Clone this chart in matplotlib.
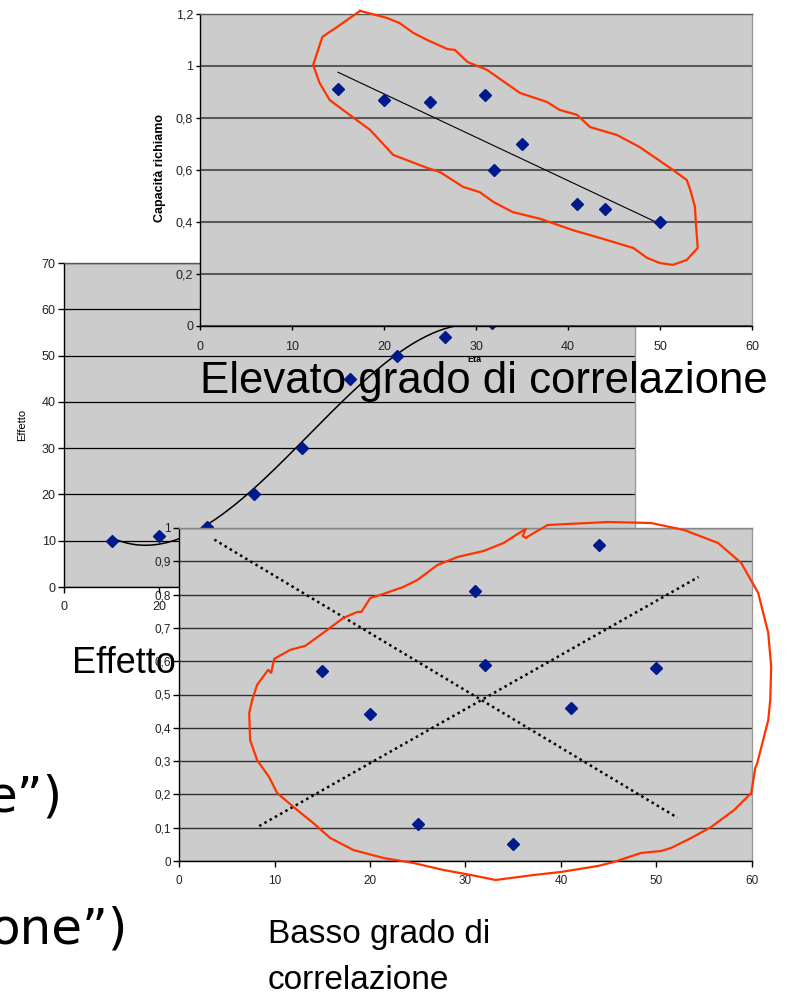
import numpy as np
import matplotlib.pyplot as plt
from matplotlib.ticker import FuncFormatter

plt.rcParams['font.family'] = 'Liberation Sans'

W, H = 794, 994

# recall capacity against age
eta = [15, 20, 25, 31, 32, 35, 41, 44, 50]
richiamo = [0.91, 0.87, 0.86, 0.89, 0.60, 0.70, 0.47, 0.45, 0.40]
# same ages, scattered values
sparsi = [0.57, 0.44, 0.11, 0.81, 0.59, 0.05, 0.46, 0.95, 0.58]
# dose / effect with a threshold
dose = [10, 20, 30, 40, 50, 60, 70, 80, 90]
effetto = [10, 11, 13, 20, 30, 45, 50, 54, 57]

# hand drawn loops, in data units of their chart
giro_alto_x = [17.4, 20.3, 21.7, 23.2, 24.7, 26.9, 27.7, 29.1, 31.2, 34.8, 37.7, 39.1, 41.0, 42.4,
               45.3, 47.8, 51.1, 52.9, 53.3, 53.8, 53.9, 54.1, 52.9, 51.4, 50.0, 48.6, 47.1, 44.2,
               40.5, 37.0, 34.0, 31.9, 30.4, 28.6, 26.1, 24.7, 21.0, 18.5, 16.0, 14.1, 13.0, 12.3,
               13.3, 14.9, 17.4]
giro_alto_y = [1.212, 1.185, 1.165, 1.127, 1.100, 1.065, 1.062, 1.015, 0.985, 0.896, 0.862, 0.831,
               0.812, 0.765, 0.735, 0.688, 0.608, 0.562, 0.523, 0.458, 0.396, 0.300, 0.254, 0.235,
               0.242, 0.262, 0.300, 0.331, 0.369, 0.412, 0.438, 0.477, 0.515, 0.535, 0.592, 0.608,
               0.658, 0.754, 0.819, 0.869, 0.935, 1.004, 1.112, 1.150, 1.212]

giro_basso_x = [7.66, 8.18, 9.34, 9.65, 9.97, 11.65, 13.22, 15.53, 17.21, 18.68, 19.10, 20.04, 21.41,
                23.50, 24.97, 27.07, 29.17, 31.90, 34.00, 35.78, 36.31, 35.99, 36.31, 37.15, 38.61,
                44.91, 49.42, 52.89, 56.45, 58.87, 60.65, 61.70, 62.01, 61.91, 61.70, 60.55, 60.34,
                59.92, 58.13, 55.72, 53.62, 51.52, 50.47, 48.37, 45.54, 43.86, 39.98, 37.15, 33.16,
                30.54, 27.70, 24.55, 21.41, 18.26, 15.84, 14.06, 12.38, 10.28, 9.44, 8.18, 7.45,
                7.35, 7.66]
giro_basso_y = [0.483, 0.529, 0.574, 0.565, 0.607, 0.634, 0.646, 0.694, 0.730, 0.748, 0.748, 0.790,
                0.802, 0.823, 0.844, 0.889, 0.913, 0.931, 0.955, 0.988, 0.997, 0.976, 0.970, 0.985,
                1.009, 1.018, 1.015, 0.994, 0.955, 0.895, 0.805, 0.685, 0.583, 0.483, 0.423, 0.294,
                0.279, 0.204, 0.153, 0.102, 0.069, 0.039, 0.030, 0.024, -0.003, -0.015, -0.033,
                -0.042, -0.057, -0.042, -0.027, -0.006, 0.009, 0.033, 0.069, 0.114, 0.153, 0.204,
                0.252, 0.303, 0.363, 0.444, 0.483]

# two dotted guide lines crossing in the low-correlation chart
retta_giu_x = [3.7, 52.2]
retta_giu_y = [0.965, 0.13]
retta_su_x = [8.4, 54.4]
retta_su_y = [0.105, 0.853]

ROSSO = '#ff3300'
BLU = '#001a8c'

comma = FuncFormatter(lambda v, p: f"{v:g}".replace('.', ','))

fig = plt.figure(figsize=(W / 100, H / 100), dpi=100)
fig.patch.set_facecolor('white')


def box(left, top, right, bottom):
    return fig.add_axes([left / W, 1 - bottom / H, (right - left) / W, (bottom - top) / H])


def excel_look(ax, grid_color, grid_lw, top_color, size, xpad):
    ax.set_facecolor('#cccccc')
    ax.yaxis.grid(True, color=grid_color, linewidth=grid_lw)
    ax.set_axisbelow(True)
    ax.spines['left'].set_color('black')
    ax.spines['bottom'].set_color('black')
    ax.spines['top'].set_color(top_color)
    ax.spines['right'].set_color('#999999')
    for s in ax.spines.values():
        s.set_linewidth(1)
    ax.tick_params(direction='out', length=4, width=1, pad=2, colors='black',
                   labelcolor='#222222', labelsize=size)
    ax.tick_params(axis='x', pad=xpad)
    ax.xaxis.set_major_formatter(comma)
    ax.yaxis.set_major_formatter(comma)


# ---- threshold effect chart (underneath) ----
ax_mid = box(64, 263, 635, 587)
ax_mid.set_zorder(1)
excel_look(ax_mid, 'black', 0.9, '#555555', 9, 6)
ax_mid.set_xlim(0, 120)
ax_mid.set_ylim(0, 70)
ax_mid.set_xticks(range(0, 121, 20))
ax_mid.set_yticks(range(0, 71, 10))
coef = np.polyfit(dose, effetto, 3)
xs = np.linspace(dose[0], dose[-1], 200)
ax_mid.plot(xs, np.polyval(coef, xs), color='black', lw=1.1)
ax_mid.plot(dose, effetto, 'D', color=BLU, ms=6, clip_on=False)
ax_mid.set_ylabel('Effetto', fontsize=8)
ax_mid.yaxis.set_label_coords((27 - 64) / (635 - 64), 0.5)
ax_mid.text(72 / W, 1 - 673 / H, 'Effetto soglia', transform=fig.transFigure,
            fontsize=26, va='baseline', ha='left', clip_on=False)

# ---- high correlation chart ----
ax_top = box(200, 14, 752, 326)
ax_top.set_zorder(2)
excel_look(ax_top, '#5a5a5a', 1.5, '#5a5a5a', 9, 8)
ax_top.set_xlim(0, 60)
ax_top.set_ylim(0, 1.2)
ax_top.set_xticks(range(0, 61, 10))
ax_top.set_yticks(np.arange(0, 1.21, 0.2))
ax_top.tick_params(length=3)
a, b = np.polyfit(eta, richiamo, 1)
ax_top.plot([eta[0], eta[-1]], [a * eta[0] + b, a * eta[-1] + b], color='black', lw=0.8)
ax_top.plot(eta, richiamo, 'D', color=BLU, ms=6)
ax_top.plot(giro_alto_x, giro_alto_y, color=ROSSO, lw=1.6, clip_on=False, zorder=5)
ax_top.text(160 / W, 1 - 168 / H, 'Capacità richiamo', transform=fig.transFigure,
            rotation=90, fontsize=9, fontweight='bold', ha='center', va='center')
ax_top.text(474 / W, 1 - 359 / H, 'Eta', transform=fig.transFigure,
            fontsize=6.5, fontweight='bold', ha='center', va='center')
ax_top.text(200 / W, 1 - 393 / H, 'Elevato grado di correlazione', transform=fig.transFigure,
            fontsize=31.5, va='baseline', ha='left', clip_on=False)

# ---- low correlation chart ----
ax_bot = box(179, 528, 752, 861)
ax_bot.set_zorder(3)
excel_look(ax_bot, '#303030', 1.0, '#888888', 8.5, 6)
ax_bot.set_xlim(0, 60)
ax_bot.set_ylim(0, 1)
ax_bot.set_xticks(range(0, 61, 10))
ax_bot.set_yticks(np.arange(0, 1.01, 0.1))
ax_bot.plot(retta_giu_x, retta_giu_y, color='black', lw=1.8, ls=(0, (1, 1.4)))
ax_bot.plot(retta_su_x, retta_su_y, color='black', lw=1.8, ls=(0, (1, 1.4)))
ax_bot.plot(eta, sparsi, 'D', color=BLU, ms=6)
ax_bot.plot(giro_basso_x, giro_basso_y, color=ROSSO, lw=1.6, clip_on=False, zorder=5)

fig.text(268 / W, 1 - 943 / H, 'Basso grado di', fontsize=24, va='baseline')
fig.text(268 / W, 1 - 989 / H, 'correlazione', fontsize=24, va='baseline')

# slide text running off the left edge
fig.text(62 / W, 1 - 812 / H, 'e\u201d)', fontsize=36, family='DejaVu Sans', ha='right', va='baseline')
fig.text(128 / W, 1 - 943 / H, 'one\u201d)', fontsize=36, family='DejaVu Sans', ha='right', va='baseline')

fig.savefig('out.png', dpi=100)
